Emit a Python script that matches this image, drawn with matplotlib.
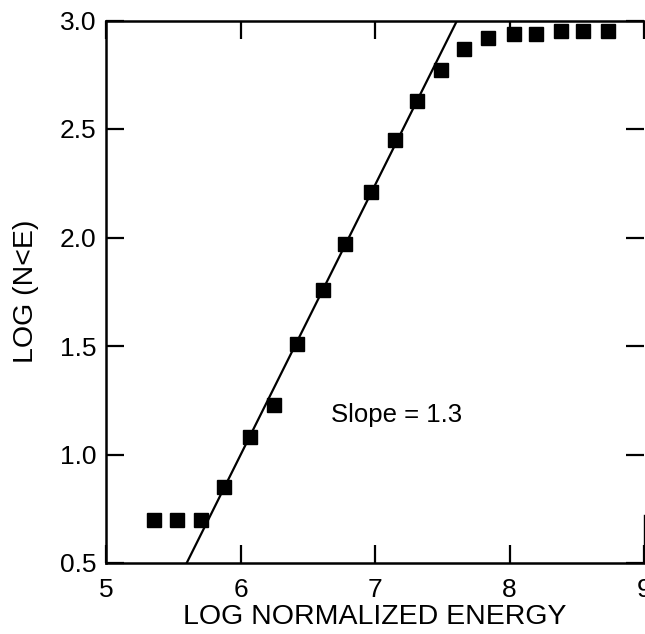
import matplotlib
matplotlib.use("Agg")
import matplotlib.pyplot as plt

plt.rcParams["font.family"] = ["Liberation Sans", "DejaVu Sans"]

# data
log_energy = [5.36, 5.53, 5.71, 5.88, 6.07, 6.25, 6.42, 6.61, 6.78, 6.97,
              7.15, 7.31, 7.49, 7.66, 7.84, 8.03, 8.20, 8.38, 8.55, 8.73]
log_n = [0.70, 0.70, 0.70, 0.85, 1.08, 1.23, 1.51, 1.76, 1.97, 2.21,
         2.45, 2.63, 2.77, 2.87, 2.92, 2.94, 2.94, 2.95, 2.95, 2.95]

fit_x = [5.60, 7.61]
fit_y = [0.50, 3.00]

x_ticks = [5, 6, 7, 8, 9]
y_ticks = [0.5, 1.0, 1.5, 2.0, 2.5, 3.0]
y_tick_labels = ["0.5", "1.0", "1.5", "2.0", "2.5", "3.0"]

fig = plt.figure(figsize=(6.45, 6.34), dpi=100)
ax = fig.add_axes([106 / 645, 1 - 563 / 634, (644 - 106) / 645, (563 - 20.5) / 634])

ax.plot(fit_x, fit_y, color="black", lw=1.6, zorder=2)
ax.plot(log_energy, log_n, "s", color="black", ms=9.5, zorder=3)

ax.set_xlim(5, 9)
ax.set_ylim(0.5, 3.0)
ax.set_xticks(x_ticks)
ax.set_yticks(y_ticks)
ax.set_yticklabels(y_tick_labels)

ax.tick_params(axis="both", direction="in", length=13, width=1.6,
               labelsize=19, top=True, right=True)
ax.tick_params(axis="x", pad=11)
ax.tick_params(axis="y", pad=7)
ax.tick_params(axis="y", which="major", right=True)
for s in ax.spines.values():
    s.set_linewidth(1.8)
# the scan only shows the lower end of the right frame line
ax.spines["right"].set_bounds(0.5, 0.72)
ax.spines["right"].set_linewidth(1.0)

ax.text(7.16, 1.18, "Slope = 1.3", fontsize=18.5, ha="center", va="center")

ax.set_xlabel("LOG NORMALIZED ENERGY", fontsize=20.5, labelpad=1)
ax.set_ylabel("LOG (N<E)", fontsize=20.5, labelpad=15)

fig.savefig("out.png", dpi=100)
